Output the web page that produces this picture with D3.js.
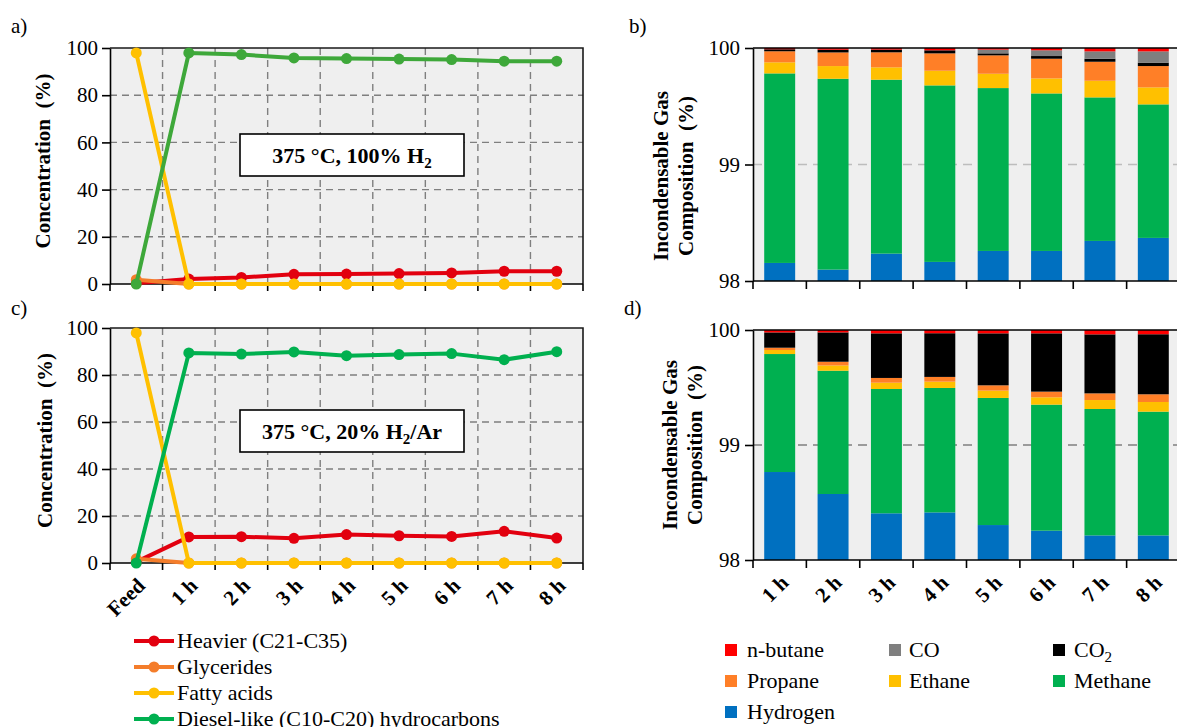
<!DOCTYPE html>
<html>
<head>
<meta charset="utf-8">
<script src="https://cdn.jsdelivr.net/npm/d3@7"></script>
<style>
  body { margin: 0; background: #fff; }
  svg { display: block; }
  svg text { font-family: "Liberation Serif", "Times New Roman", serif; }
</style>
</head>
<body>
<svg id="chart" width="1177" height="727"></svg>
<script>
// ---- categories and ticks ----
const timeCats = ["Feed", "1 h", "2 h", "3 h", "4 h", "5 h", "6 h", "7 h", "8 h"];
const hourCats = ["1 h", "2 h", "3 h", "4 h", "5 h", "6 h", "7 h", "8 h"];
const concTicks = [0, 20, 40, 60, 80, 100];
const gasTicks = [98, 99, 100];

// ---- liquid product concentration (%), 375 °C, 100% H2 ----
const heavierA    = [0.3, 2.1, 2.8, 4.1, 4.2, 4.4, 4.7, 5.4, 5.4];
const glyceridesA = [1.8, 0, 0, 0, 0, 0, 0, 0, 0];
const fattyA      = [97.9, 0, 0, 0, 0, 0, 0, 0, 0];
const dieselA     = [0, 97.9, 97.2, 95.8, 95.5, 95.3, 95.1, 94.4, 94.4];

// ---- liquid product concentration (%), 375 °C, 20% H2/Ar ----
const heavierC    = [0.5, 11.1, 11.2, 10.5, 12.1, 11.6, 11.3, 13.5, 10.6];
const glyceridesC = [1.8, 0, 0, 0, 0, 0, 0, 0, 0];
const fattyC      = [97.9, 0, 0, 0, 0, 0, 0, 0, 0];
const dieselC     = [0, 89.4, 88.9, 89.8, 88.2, 88.7, 89.1, 86.5, 89.9];

// ---- incondensable gas composition (%), 100% H2 ----
const hydrogenB = [98.155, 98.098, 98.235, 98.164, 98.258, 98.258, 98.344, 98.370];
const methaneB  = [1.627, 1.638, 1.493, 1.515, 1.398, 1.352, 1.232, 1.146];
const ethaneB   = [0.095, 0.109, 0.106, 0.126, 0.123, 0.129, 0.143, 0.146];
const propaneB  = [0.095, 0.117, 0.129, 0.149, 0.158, 0.169, 0.163, 0.183];
const co2B      = [0.017, 0.023, 0.023, 0.026, 0.017, 0.023, 0.026, 0.029];
const coB       = [0, 0, 0, 0, 0.032, 0.049, 0.063, 0.097];
const butaneB   = [0.011, 0.014, 0.014, 0.020, 0.014, 0.020, 0.029, 0.029];

// ---- incondensable gas composition (%), 20% H2/Ar ----
const hydrogenD = [98.765, 98.574, 98.406, 98.414, 98.304, 98.255, 98.214, 98.214];
const methaneD  = [1.026, 1.072, 1.081, 1.082, 1.105, 1.096, 1.099, 1.076];
const ethaneD   = [0.035, 0.046, 0.055, 0.055, 0.064, 0.064, 0.078, 0.084];
const propaneD  = [0.020, 0.032, 0.041, 0.041, 0.046, 0.049, 0.058, 0.067];
const co2D      = [0.133, 0.255, 0.388, 0.380, 0.452, 0.507, 0.513, 0.522];
const coD       = [0, 0, 0, 0, 0, 0, 0, 0];
const butaneD   = [0.020, 0.020, 0.029, 0.029, 0.029, 0.029, 0.038, 0.038];

// ---- series names ----
const lineNames = ["Heavier (C21-C35)", "Glycerides", "Fatty acids", "Diesel-like (C10-C20) hydrocarbons"];
const gasKeys = ["hydrogen", "methane", "ethane", "propane", "co2", "co", "butane"];

const FONT = '"Liberation Serif", "Times New Roman", serif';
const lineColors = ["#e2000f", "#f47d2b", "#ffc000", "#00b050"];
const gasColors = {
  hydrogen: "#0070c0", methane: "#00b050", ethane: "#ffc000", propane: "#ff7f27",
  co2: "#000000", co: "#7f7f7f", butane: "#ff0000"
};

const svg = d3.select("#chart");

function styleAxis(sel) {
  sel.attr("font-family", FONT).attr("font-size", 21);
  sel.select(".domain").attr("stroke", "#000").attr("stroke-width", 1.6);
  sel.selectAll(".tick line").attr("stroke", "#000").attr("stroke-width", 1.6);
  sel.selectAll(".tick text").attr("fill", "#000");
}

function panelTag(text, x, y) {
  svg.append("text").attr("x", x).attr("y", y).attr("font-size", 21).attr("fill", "#000").text(text);
}

// ---------- line panels (a, c) ----------
function linePanel(cfg) {
  const { x0, x1, y0, y1, series, dieselColor, box, labels, titleX } = cfg;
  const g = svg.append("g");
  const x = d3.scaleBand().domain(timeCats).range([x0, x1]).padding(0);
  const y = d3.scaleLinear().domain([0, 100]).range([y1, y0]);
  const cx = c => x(c) + x.bandwidth() / 2;

  g.append("rect").attr("x", x0).attr("y", y0).attr("width", x1 - x0).attr("height", y1 - y0).attr("fill", "#efefef");

  g.selectAll(".hgrid").data(concTicks.filter(t => t > 0 && t < 100)).join("line")
    .attr("x1", x0).attr("x2", x1).attr("y1", d => y(d)).attr("y2", d => y(d))
    .attr("stroke", "#7f7f7f").attr("stroke-width", 1.4).attr("stroke-dasharray", "7,5");

  const bounds = timeCats.map(c => x(c)).concat([x1]);
  g.selectAll(".vgrid").data(bounds.slice(1, -1)).join("line")
    .attr("x1", d => d).attr("x2", d => d).attr("y1", y0).attr("y2", y1)
    .attr("stroke", "#7f7f7f").attr("stroke-width", 1.4).attr("stroke-dasharray", "7,5");

  g.append("path").attr("d", `M${x0},${y0}H${x1}V${y1}`)
    .attr("fill", "none").attr("stroke", "#1a1a1a").attr("stroke-width", 1.6);

  const ya = g.append("g").attr("transform", `translate(${x0},0)`)
    .call(d3.axisLeft(y).tickValues(concTicks).tickSize(8).tickSizeOuter(0).tickPadding(4));
  styleAxis(ya);

  // x axis line with ticks on category boundaries
  g.append("line").attr("x1", x0).attr("x2", x1).attr("y1", y1).attr("y2", y1)
    .attr("stroke", "#000").attr("stroke-width", 1.6);
  g.selectAll(".xtick").data(bounds).join("line")
    .attr("x1", d => d).attr("x2", d => d).attr("y1", y1).attr("y2", y1 + 7)
    .attr("stroke", "#000").attr("stroke-width", 1.6);

  if (labels) {
    const xa = g.append("g").attr("transform", `translate(0,${y1})`)
      .call(d3.axisBottom(x).tickSize(0).tickPadding(0));
    xa.select(".domain").remove();
    xa.attr("font-family", FONT).attr("font-size", 21);
    xa.selectAll(".tick text").attr("fill", "#000").attr("font-weight", "bold")
      .attr("x", 0).attr("y", 0).attr("dy", 0)
      .attr("text-anchor", "end").attr("transform", "translate(10,24) rotate(-45)");
  }

  // annotation box
  g.append("rect").attr("x", box.x).attr("y", box.y).attr("width", box.w).attr("height", box.h)
    .attr("fill", "#fff").attr("stroke", "#000").attr("stroke-width", 1.6);
  const bt = g.append("text").attr("x", box.x + box.w / 2).attr("y", box.y + box.h / 2 + 8)
    .attr("text-anchor", "middle").attr("font-size", 22).attr("font-weight", "bold");
  bt.append("tspan").text(box.pre);
  bt.append("tspan").attr("font-size", 15).attr("dy", 5).text("2");
  bt.append("tspan").attr("dy", -5).text(box.post);

  // axis title
  g.append("text").attr("transform", `translate(${titleX},${(y0 + y1) / 2 - 5}) rotate(-90)`)
    .attr("text-anchor", "middle").attr("font-size", 21).attr("font-weight", "bold")
    .style("white-space", "pre").text("Concentration  (%)");

  const line = d3.line().x((d, i) => cx(timeCats[i])).y(d => y(d));
  series.forEach((vals, k) => {
    const col = k === 3 ? dieselColor : lineColors[k];
    g.append("path").datum(vals).attr("d", line).attr("fill", "none")
      .attr("stroke", col).attr("stroke-width", 4).attr("stroke-linejoin", "round");
    g.selectAll(null).data(vals).join("circle")
      .attr("cx", (d, i) => cx(timeCats[i])).attr("cy", d => y(d)).attr("r", 5.5).attr("fill", col);
  });
}

// ---------- stacked gas panels (b, d) ----------
function gasPanel(cfg) {
  const { x0, x1, y0, y1, cols, gridColor, labels, titleX, titleY } = cfg;
  const g = svg.append("g");
  const rows = hourCats.map((h, i) => {
    const r = { hour: h };
    gasKeys.forEach(k => { r[k] = cols[k][i]; });
    return r;
  });
  const x = d3.scaleBand().domain(hourCats).range([x0, x1]).paddingInner(0.42).paddingOuter(0.21);
  const y = d3.scaleLinear().domain([98, 100]).range([y1, y0]).clamp(true);
  const stacked = d3.stack().keys(gasKeys)(rows);

  g.append("rect").attr("x", x0).attr("y", y0).attr("width", x1 - x0).attr("height", y1 - y0).attr("fill", "#efefef");
  g.append("line").attr("x1", x0).attr("x2", x1).attr("y1", y(99)).attr("y2", y(99))
    .attr("stroke", gridColor).attr("stroke-width", 1.6).attr("stroke-dasharray", "9,6");

  stacked.forEach(layer => {
    g.selectAll(null).data(layer).join("rect")
      .attr("x", d => x(d.data.hour)).attr("width", x.bandwidth())
      .attr("y", d => y(d[1])).attr("height", d => Math.max(0, y(d[0]) - y(d[1])))
      .attr("fill", gasColors[layer.key]);
  });

  g.append("line").attr("x1", x0).attr("x2", x1).attr("y1", y0).attr("y2", y0)
    .attr("stroke", "#000").attr("stroke-width", 1.6);

  const ya = g.append("g").attr("transform", `translate(${x0},0)`)
    .call(d3.axisLeft(y).tickValues(gasTicks).tickFormat(d3.format("d")).tickSize(8).tickSizeOuter(0).tickPadding(5));
  styleAxis(ya);

  const step = x.step();
  const bounds = hourCats.map((h, i) => x0 + i * step).concat([x1]);
  g.append("line").attr("x1", x0).attr("x2", x1).attr("y1", y1).attr("y2", y1)
    .attr("stroke", "#000").attr("stroke-width", 1.6);
  g.selectAll(".xtick").data(bounds).join("line")
    .attr("x1", d => d).attr("x2", d => d).attr("y1", y1).attr("y2", y1 + 8)
    .attr("stroke", "#000").attr("stroke-width", 1.6);

  if (labels) {
    const xa = g.append("g").attr("transform", `translate(0,${y1})`)
      .call(d3.axisBottom(x).tickSize(0).tickPadding(0));
    xa.select(".domain").remove();
    xa.attr("font-family", FONT).attr("font-size", 21);
    xa.selectAll(".tick text").attr("fill", "#000").attr("font-weight", "bold")
      .attr("x", 0).attr("y", 0).attr("dy", 0)
      .attr("text-anchor", "end").attr("transform", "translate(10,24) rotate(-45)");
  }

  const t = g.append("text").attr("transform", `translate(${titleX},${titleY}) rotate(-90)`)
    .attr("text-anchor", "middle").attr("font-size", 21).attr("font-weight", "bold");
  t.append("tspan").attr("x", 0).attr("y", 0).text("Incondensable Gas");
  t.append("tspan").attr("x", 0).attr("y", 25).style("white-space", "pre").text("Composition  (%)");
}

// ---------- draw ----------
linePanel({
  x0: 110, x1: 583, y0: 48, y1: 284,
  series: [heavierA, glyceridesA, fattyA, dieselA], dieselColor: "#3ea83a",
  box: { x: 240, y: 134, w: 224, h: 42, pre: "375 °C, 100% H", post: "" },
  labels: false, titleX: 50
});
linePanel({
  x0: 110, x1: 583, y0: 328, y1: 563,
  series: [heavierC, glyceridesC, fattyC, dieselC], dieselColor: "#00b04f",
  box: { x: 240, y: 410, w: 224, h: 42, pre: "375 °C, 20% H", post: "/Ar" },
  labels: true, titleX: 52
});
gasPanel({
  x0: 753, x1: 1180, y0: 48, y1: 281,
  cols: { hydrogen: hydrogenB, methane: methaneB, ethane: ethaneB, propane: propaneB, co2: co2B, co: coB, butane: butaneB },
  gridColor: "#bdbdbd", labels: false, titleX: 668, titleY: 176
});
gasPanel({
  x0: 753, x1: 1180, y0: 330, y1: 560,
  cols: { hydrogen: hydrogenD, methane: methaneD, ethane: ethaneD, propane: propaneD, co2: co2D, co: coD, butane: butaneD },
  gridColor: "#808080", labels: true, titleX: 677, titleY: 445
});

panelTag("a)", 11, 33);
panelTag("b)", 629, 33);
panelTag("c)", 11, 315);
panelTag("d)", 624, 315);

// ---------- line legend ----------
const lg = svg.append("g");
lineNames.forEach((name, i) => {
  const yy = 641 + i * 26;
  lg.append("line").attr("x1", 134).attr("x2", 174).attr("y1", yy).attr("y2", yy)
    .attr("stroke", lineColors[i]).attr("stroke-width", 4);
  lg.append("circle").attr("cx", 154).attr("cy", yy).attr("r", 5.5).attr("fill", lineColors[i]);
  lg.append("text").attr("x", 177).attr("y", yy + 7).attr("font-size", 22).text(name);
});

// ---------- gas legend ----------
const gasLegend = [
  { key: "butane", label: "n-butane" }, { key: "co", label: "CO" }, { key: "co2", label: "CO", sub: "2" },
  { key: "propane", label: "Propane" }, { key: "ethane", label: "Ethane" }, { key: "methane", label: "Methane" },
  { key: "hydrogen", label: "Hydrogen" }
];
const colX = [725, 889, 1053];
const textDx = [22, 20, 21];
const gl = svg.append("g");
gasLegend.forEach((item, i) => {
  const c = i % 3, r = Math.floor(i / 3);
  const yy = 650 + r * 31;
  gl.append("rect").attr("x", colX[c]).attr("y", yy - 6).attr("width", 12).attr("height", 12)
    .attr("fill", gasColors[item.key]);
  const t = gl.append("text").attr("x", colX[c] + textDx[c]).attr("y", yy + 7).attr("font-size", 22);
  t.append("tspan").text(item.label);
  if (item.sub) t.append("tspan").attr("font-size", 15).attr("dy", 5).text(item.sub);
});
</script>
</body>
</html>
